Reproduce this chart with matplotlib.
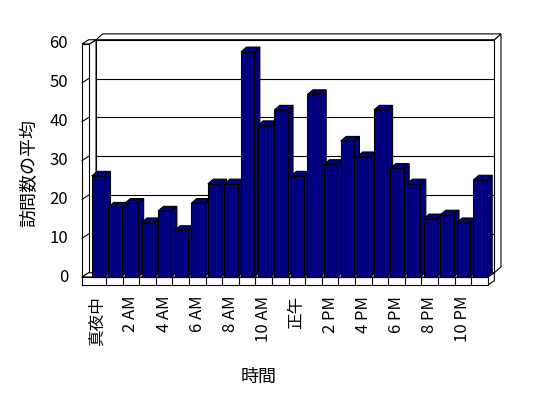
import numpy as np
import matplotlib
matplotlib.use("Agg")
import matplotlib.pyplot as plt
from matplotlib.patches import Polygon

plt.rcParams['font.family'] = ['Noto Sans CJK JP', 'DejaVu Sans']

# 時間帯ごとの訪問数の平均
hours = ["真夜中", "1 AM", "2 AM", "3 AM", "4 AM", "5 AM", "6 AM", "7 AM",
         "8 AM", "9 AM", "10 AM", "11 AM", "正午", "1 PM", "2 PM", "3 PM",
         "4 PM", "5 PM", "6 PM", "7 PM", "8 PM", "9 PM", "10 PM", "11 PM"]
visits = [26, 18, 19, 14, 17, 12, 19, 24, 24, 58, 39, 43,
          26, 47, 29, 35, 31, 43, 28, 24, 15, 16, 14, 25]
yticks = [0, 10, 20, 30, 40, 50, 60]

bar_color = "#000080"
n = len(visits)
ymax = yticks[-1]

# 奥行き（データ単位）
DX, DY = 0.40, 1.1      # 手前→奥の壁
TX, TY = 0.40, 1.5      # 壁の厚み
WALL = 0.44             # 左の壁の厚み
FLOOR = 2.06            # 床の厚み
BDX, BDY = 0.33, 1.2    # 棒の奥行き


def box(ax, x0, x1, y0, y1, dx, dy, fc, lw=0.8, z=1):
    """前面・上面・右側面を持つ疑似3Dの箱"""
    front = [(x0, y0), (x1, y0), (x1, y1), (x0, y1)]
    top = [(x0, y1), (x1, y1), (x1 + dx, y1 + dy), (x0 + dx, y1 + dy)]
    side = [(x1, y0), (x1 + dx, y0 + dy), (x1 + dx, y1 + dy), (x1, y1)]
    for pts in (side, top, front):
        ax.add_patch(Polygon(pts, closed=True, facecolor=fc,
                             edgecolor="black", lw=lw, zorder=z,
                             joinstyle="miter"))


fig = plt.figure(figsize=(5.48, 3.98), dpi=100)
ax = fig.add_axes([0, 0, 1, 1])
# 画面座標に合わせた範囲（手前の面: x=0→89px, x=24→488px, y=0→277px, y=60→44px）
px_x = (487.7 - 89.4) / n
px_y = (277 - 44) / ymax
ax.set_xlim(-89.4 / px_x, (548 - 89.4) / px_x)
ax.set_ylim((277 - 398) / px_y, 277 / px_y)
ax.axis("off")

# 奥の壁
box(ax, DX, n + DX, DY, ymax + DY, TX, TY, "white", z=1)
for v in yticks[1:-1]:
    ax.plot([DX, n + DX], [v + DY, v + DY], color="black", lw=0.8, zorder=1.5)

# 左の壁
box(ax, -WALL, 0, -FLOOR, ymax, DX, DY, "white", z=2)
for v in yticks[:-1]:
    ax.plot([-WALL, -WALL + DX], [v, v + DY], color="black", lw=0.8, zorder=2.5)

# 床
box(ax, -WALL, n, -FLOOR, 0, DX, DY, "white", z=3)
for i in range(1, n):
    ax.plot([i, i], [-FLOOR, 0], color="black", lw=0.8, zorder=3.5)

# 棒
for i, v in enumerate(visits):
    box(ax, i + 0.14, i + 0.94, 0, v, BDX, BDY, bar_color, z=4 + i * 0.01)

# 目盛りラベル
for v in yticks:
    ax.text(-WALL - 0.84, v, str(v), ha="right", va="center", fontsize=12)
for i in range(0, n, 2):
    ax.text(i + 0.5, -4.8, hours[i], rotation=90, ha="center", va="top",
            fontsize=12)

ax.text(-3.64, 26.8, "訪問数の平均", rotation=90, ha="center", va="center",
        fontsize=13)
ax.text(10.2, -25.7, "時間", ha="center", va="center", fontsize=13)

fig.savefig("out.png", dpi=100)
